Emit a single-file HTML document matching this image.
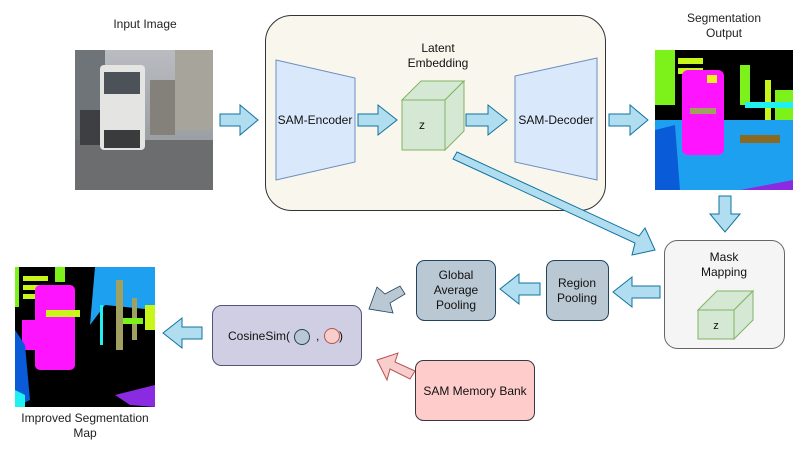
<!DOCTYPE html>
<html><head><meta charset="utf-8"><style>
html,body{margin:0;padding:0;background:#fff;}
svg{display:block;font-family:"Liberation Sans",Arial,sans-serif;}
</style></head><body>
<svg width="805" height="450" viewBox="0 0 805 450" xmlns="http://www.w3.org/2000/svg">
<defs>
<linearGradient id="sky" x1="0" y1="0" x2="0" y2="1"><stop offset="0" stop-color="#b9bdc2"/><stop offset="1" stop-color="#8a8f92"/></linearGradient>
</defs>
<text x="145" y="28" font-size="12" text-anchor="middle" fill="#222">Input Image</text>
<g>
<rect x="75" y="50" width="138" height="140" fill="url(#sky)"/>
<rect x="75" y="50" width="30" height="90" fill="#6f7478"/>
<rect x="175" y="50" width="38" height="80" fill="#a7a49b"/>
<rect x="75" y="140" width="138" height="50" fill="#6b6d6e"/>
<rect x="100" y="65" width="45" height="85" rx="4" fill="#e4e4e2"/>
<rect x="104" y="72" width="36" height="22" fill="#4d5258"/>
<rect x="104" y="130" width="36" height="18" fill="#3a3b3d"/>
<rect x="150" y="80" width="25" height="55" fill="#84807a"/>
<rect x="80" y="110" width="20" height="35" fill="#3d3f42"/>
</g>
<rect x="265.5" y="15.5" width="340" height="195" rx="26" fill="#f9f7ed" stroke="#333" stroke-width="1"/>
<polygon points="276,60 355,78 355,162 276,180" fill="#dae8fc" stroke="#6c8ebf"/>
<text x="315" y="124" font-size="12" text-anchor="middle" fill="#111">SAM-Encoder</text>
<text x="438" y="52" font-size="12" text-anchor="middle" fill="#111">Latent</text>
<text x="438" y="67" font-size="12" text-anchor="middle" fill="#111">Embedding</text>
<polygon points="402,100 421,81 464,81 445,100" fill="#d5e8d4" stroke="#82b366"/>
<polygon points="445,100 464,81 464,131 445,150" fill="#d5e8d4" stroke="#82b366"/>
<rect x="402" y="100" width="43" height="50" fill="#d5e8d4" stroke="#82b366"/>
<text x="422" y="129" font-size="12" text-anchor="middle" fill="#111">z</text>
<polygon points="515,76 597,58 597,180 515,162" fill="#dae8fc" stroke="#6c8ebf"/>
<text x="556" y="124" font-size="12" text-anchor="middle" fill="#111">SAM-Decoder</text>
<text x="724" y="22" font-size="12" text-anchor="middle" fill="#222">Segmentation</text>
<text x="724" y="37" font-size="12" text-anchor="middle" fill="#222">Output</text>
<g>
<rect x="655" y="50" width="138" height="140" fill="#000"/>
<rect x="655" y="50" width="20" height="55" fill="#7df21a"/>
<rect x="678" y="58" width="25" height="6" fill="#c8f51a"/>
<rect x="678" y="68" width="25" height="6" fill="#c8f51a"/>
<rect x="740" y="65" width="10" height="40" fill="#7df21a"/>
<rect x="765" y="80" width="6" height="40" fill="#c8f51a"/>
<rect x="775" y="90" width="18" height="30" fill="#7df21a"/>
<rect x="655" y="120" width="138" height="70" fill="#1ea0f0"/>
<polygon points="655,130 675,125 680,190 655,190" fill="#0a5bd8"/>
<polygon points="740,190 793,180 793,190" fill="#8a2be2"/>
<rect x="682" y="70" width="42" height="85" rx="6" fill="#ff14ff"/>
<rect x="690" y="108" width="26" height="6" fill="#a0a060"/>
<rect x="707" y="75" width="10" height="8" fill="#f0f020"/>
<rect x="740" y="135" width="40" height="8" fill="#8a6a20"/>
<rect x="745" y="102" width="48" height="6" fill="#20f0f0"/>
</g>
<g fill="#b1ddf0" stroke="#10739e" stroke-width="1">
<polygon points="220,114 240,114 240,105 258,120 240,135 240,126 220,126"/>
<polygon points="358,114 378,114 378,105 397,120 378,135 378,126 358,126"/>
<polygon points="466,114 488,114 488,105 507,120 488,135 488,126 466,126"/>
<polygon points="609,114 630,114 630,105 648,120 630,135 630,126 609,126"/>
<polygon points="719,196 731,196 731,214 740,214 725,232 710,214 719,214"/>
<polygon points="457,152 639,236 645,228 655,250 632,255 635,243 453,159"/>
<polygon points="660,286 632,286 632,277 613,292 632,307 632,298 660,298"/>
<polygon points="540,283 519,283 519,274 500,289 519,304 519,295 540,295"/>
<polygon points="202,327 182,327 182,318 163,333 182,348 182,339 202,339"/>
</g>
<polygon points="369,309 377,287 385,294 400,286 405,294 390,303 393,313" fill="#bac8d3" stroke="#23445d" stroke-width="0.8"/>
<polygon points="377,360 398,353 395,362 415,371 410,379 390,369 387,380" fill="#f8cecc" stroke="#b85450" stroke-width="1"/>
<rect x="664.5" y="240.5" width="120" height="108" rx="13" fill="#f5f5f5" stroke="#666"/>
<text x="724" y="261" font-size="12" text-anchor="middle" fill="#111">Mask</text>
<text x="724" y="276" font-size="12" text-anchor="middle" fill="#111">Mapping</text>
<polygon points="698,310 717,291 753,291 734,310" fill="#d5e8d4" stroke="#82b366"/>
<polygon points="734,310 753,291 753,320 734,339" fill="#d5e8d4" stroke="#82b366"/>
<rect x="698" y="310" width="36" height="29" fill="#d5e8d4" stroke="#82b366"/>
<text x="716" y="329" font-size="11" text-anchor="middle" fill="#111">z</text>
<rect x="546.5" y="260.5" width="62" height="60" rx="8" fill="#bac8d3" stroke="#23445d"/>
<text x="577" y="287" font-size="12" text-anchor="middle" fill="#111">Region</text>
<text x="577" y="302" font-size="12" text-anchor="middle" fill="#111">Pooling</text>
<rect x="416.5" y="260.5" width="79" height="60" rx="8" fill="#bac8d3" stroke="#23445d"/>
<text x="456" y="279" font-size="12" text-anchor="middle" fill="#111">Global</text>
<text x="456" y="294" font-size="12" text-anchor="middle" fill="#111">Average</text>
<text x="456" y="309" font-size="12" text-anchor="middle" fill="#111">Pooling</text>
<rect x="212.5" y="305.5" width="149" height="60" rx="9" fill="#d0cee2" stroke="#56517e"/>
<text x="228" y="340" font-size="12" fill="#111">CosineSim(</text>
<circle cx="302" cy="337" r="7.5" fill="#bac8d3" stroke="#23445d"/>
<text x="316" y="340" font-size="12" fill="#111">,</text>
<circle cx="332" cy="336" r="7.5" fill="#f8cecc" stroke="#b85450"/>
<text x="339" y="340" font-size="12" fill="#111">)</text>
<rect x="415.5" y="360.5" width="119" height="60" rx="8" fill="#ffcccc" stroke="#36393d"/>
<text x="475" y="395" font-size="12" text-anchor="middle" fill="#111">SAM Memory Bank</text>
<g>
<rect x="15" y="267" width="140" height="140" fill="#000"/>
<rect x="15" y="267" width="4" height="40" fill="#7df21a"/>
<rect x="23" y="276" width="25" height="5" fill="#c8f51a"/>
<rect x="23" y="285" width="20" height="5" fill="#c8f51a"/>
<rect x="23" y="294" width="20" height="5" fill="#c8f51a"/>
<rect x="55" y="267" width="10" height="15" fill="#7df21a"/>
<polygon points="95,267 155,267 155,310 105,305 90,325" fill="#1ea0f0"/>
<rect x="145" y="305" width="10" height="25" fill="#c8f51a"/>
<rect x="35" y="285" width="40" height="85" rx="5" fill="#ff14ff"/>
<rect x="22" y="320" width="20" height="30" fill="#ff14ff"/>
<rect x="46" y="310" width="34" height="7" fill="#c8f51a"/>
<rect x="116" y="280" width="7" height="70" fill="#a0a060"/>
<rect x="132" y="298" width="5" height="42" fill="#a0a060"/>
<rect x="100" y="305" width="3" height="40" fill="#20f0f0"/>
<rect x="123" y="318" width="20" height="6" fill="#7df21a"/>
<polygon points="15,330 25,345 30,400 15,407" fill="#0a5bd8"/>
<polygon points="15,390 25,395 25,407 15,407" fill="#20f0f0"/>
<polygon points="115,395 155,385 155,407 130,405" fill="#8a2be2"/>
</g>
<text x="85" y="422" font-size="12" text-anchor="middle" fill="#222">Improved Segmentation</text>
<text x="85" y="437" font-size="12" text-anchor="middle" fill="#222">Map</text>
</svg>
</body></html>
